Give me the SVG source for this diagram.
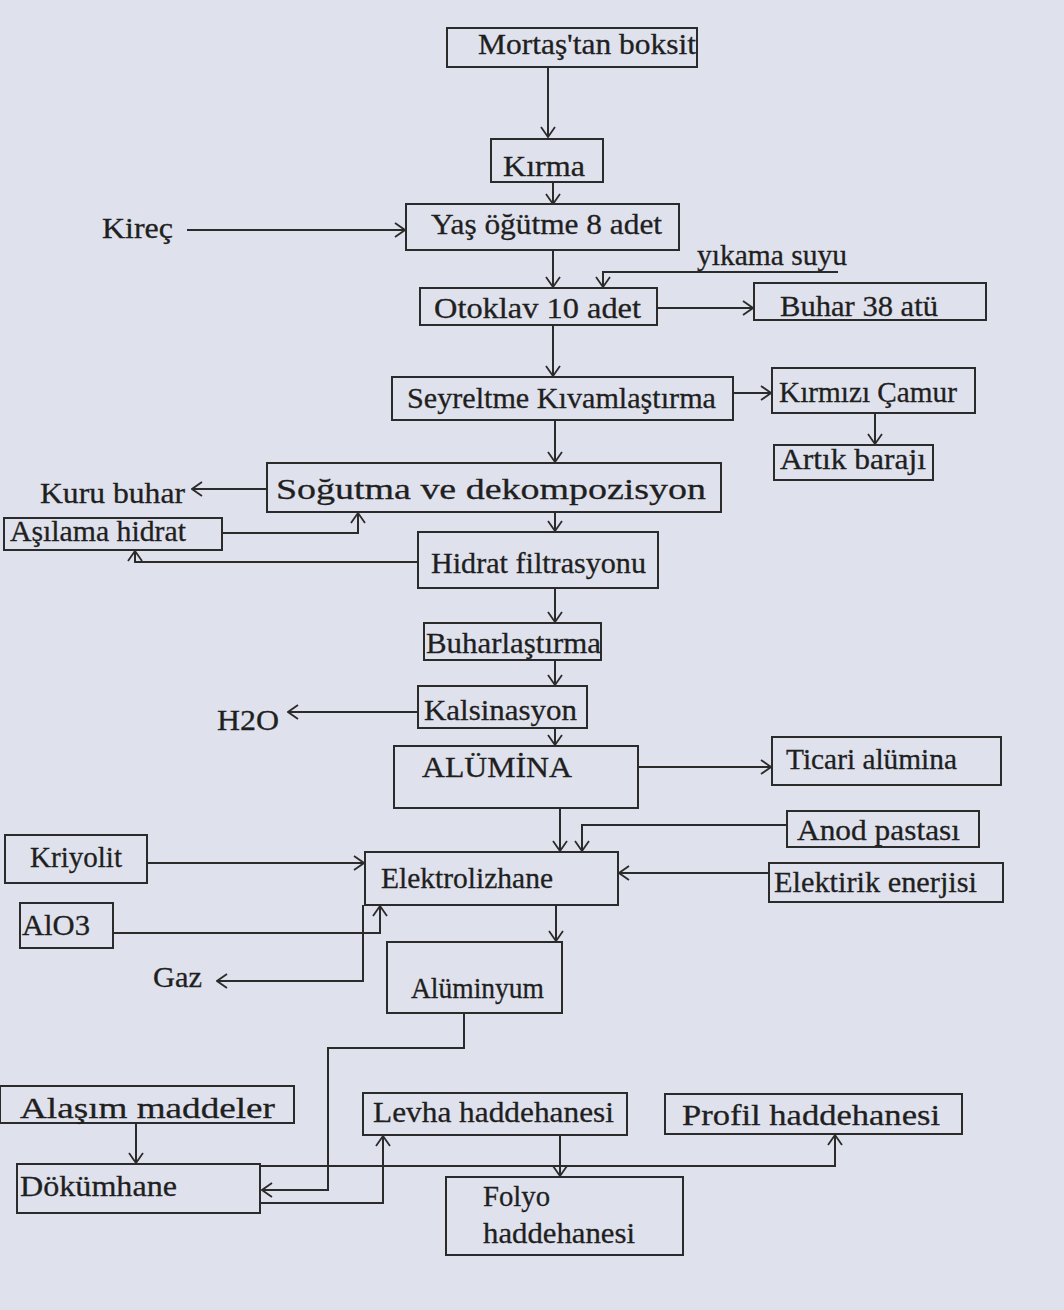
<svg xmlns="http://www.w3.org/2000/svg" width="1064" height="1310" viewBox="0 0 1064 1310">
<style>
.bg{fill:#dfe2ec}
.box{fill:none;stroke:#2b2b2b;stroke-width:2}
.t{font-family:"Liberation Serif","DejaVu Serif",serif;font-size:29px;fill:#1f1f1f;stroke:#1f1f1f;stroke-width:0.3}
.c{fill:none;stroke:#2b2b2b;stroke-width:2}
</style>
<defs>
<marker id="a" viewBox="0 0 12 16" refX="11" refY="8" markerWidth="12" markerHeight="16" markerUnits="userSpaceOnUse" orient="auto">
<path d="M1,1 L11,8 L1,15" fill="none" stroke="#2b2b2b" stroke-width="1.8"/>
</marker>
</defs>
<rect class="bg" x="0" y="0" width="1064" height="1310"/>
<g id="connectors">
<path class="c" d="M548,67 V137" marker-end="url(#a)"/>
<path class="c" d="M553,182 V204" marker-end="url(#a)"/>
<path class="c" d="M187,230 H405" marker-end="url(#a)"/>
<path class="c" d="M553,250 V287" marker-end="url(#a)"/>
<path class="c" d="M838,272 H603 V287" marker-end="url(#a)"/>
<path class="c" d="M657,308 H753" marker-end="url(#a)"/>
<path class="c" d="M553,325 V376" marker-end="url(#a)"/>
<path class="c" d="M733,393 H771" marker-end="url(#a)"/>
<path class="c" d="M875,413 V444" marker-end="url(#a)"/>
<path class="c" d="M555,420 V462" marker-end="url(#a)"/>
<path class="c" d="M267,489 H192" marker-end="url(#a)"/>
<path class="c" d="M222,533 H358 V513" marker-end="url(#a)"/>
<path class="c" d="M555,512 V531" marker-end="url(#a)"/>
<path class="c" d="M418,562 H135 V551" marker-end="url(#a)"/>
<path class="c" d="M555,588 V622" marker-end="url(#a)"/>
<path class="c" d="M555,660 V685" marker-end="url(#a)"/>
<path class="c" d="M418,712 H288" marker-end="url(#a)"/>
<path class="c" d="M555,728 V745" marker-end="url(#a)"/>
<path class="c" d="M638,767 H771" marker-end="url(#a)"/>
<path class="c" d="M560,808 V851" marker-end="url(#a)"/>
<path class="c" d="M787,825 H582 V851" marker-end="url(#a)"/>
<path class="c" d="M147,863 H364" marker-end="url(#a)"/>
<path class="c" d="M769,873 H619" marker-end="url(#a)"/>
<path class="c" d="M113,933 H380 V906" marker-end="url(#a)"/>
<path class="c" d="M363,905 V981 H217" marker-end="url(#a)"/>
<path class="c" d="M556,905 V941" marker-end="url(#a)"/>
<path class="c" d="M464,1013 V1048 H328 V1190 H262" marker-end="url(#a)"/>
<path class="c" d="M136,1123 V1163" marker-end="url(#a)"/>
<path class="c" d="M260,1166 H835 V1135" marker-end="url(#a)"/>
<path class="c" d="M260,1203 H383 V1136" marker-end="url(#a)"/>
<path class="c" d="M560,1135 V1176" marker-end="url(#a)"/>
</g>
<g id="mortas"><rect class="box" x="447" y="28" width="250" height="39"/><text class="t" x="478" y="54" textLength="218" lengthAdjust="spacingAndGlyphs">Mortaş'tan boksit</text></g>
<g id="kirma"><rect class="box" x="491" y="139" width="112" height="43"/><text class="t" x="503" y="176" textLength="82" lengthAdjust="spacingAndGlyphs">Kırma</text></g>
<g id="yas"><rect class="box" x="406" y="204" width="273" height="46"/><text class="t" x="431" y="234" textLength="231" lengthAdjust="spacingAndGlyphs">Yaş öğütme 8 adet</text></g>
<g id="kirec"><text class="t" x="102" y="238" textLength="71" lengthAdjust="spacingAndGlyphs">Kireç</text></g>
<g id="yikama"><text class="t" x="697" y="265" textLength="150" lengthAdjust="spacingAndGlyphs">yıkama suyu</text></g>
<g id="otoklav"><rect class="box" x="420" y="288" width="237" height="37"/><text class="t" x="434" y="318" textLength="207" lengthAdjust="spacingAndGlyphs">Otoklav 10 adet</text></g>
<g id="buhar38"><rect class="box" x="754" y="283" width="232" height="37"/><text class="t" x="780" y="316" textLength="158" lengthAdjust="spacingAndGlyphs">Buhar 38 atü</text></g>
<g id="seyreltme"><rect class="box" x="392" y="377" width="341" height="43"/><text class="t" x="407" y="408" textLength="309" lengthAdjust="spacingAndGlyphs">Seyreltme Kıvamlaştırma</text></g>
<g id="kirmizi"><rect class="box" x="772" y="368" width="203" height="45"/><text class="t" x="779" y="402" textLength="178" lengthAdjust="spacingAndGlyphs">Kırmızı Çamur</text></g>
<g id="artik"><rect class="box" x="774" y="445" width="159" height="35"/><text class="t" x="780" y="469" textLength="146" lengthAdjust="spacingAndGlyphs">Artık barajı</text></g>
<g id="sogutma"><rect class="box" x="267" y="463" width="454" height="49"/><text class="t" x="276" y="499" textLength="430" lengthAdjust="spacingAndGlyphs">Soğutma ve dekompozisyon</text></g>
<g id="kurubuhar"><text class="t" x="40" y="503" textLength="145" lengthAdjust="spacingAndGlyphs">Kuru buhar</text></g>
<g id="asilama"><rect class="box" x="4" y="518" width="218" height="32"/><text class="t" x="10" y="541" textLength="176" lengthAdjust="spacingAndGlyphs">Aşılama hidrat</text></g>
<g id="hidrat"><rect class="box" x="418" y="532" width="240" height="56"/><text class="t" x="431" y="573" textLength="215" lengthAdjust="spacingAndGlyphs">Hidrat filtrasyonu</text></g>
<g id="buharlastirma"><rect class="box" x="424" y="623" width="177" height="37"/><text class="t" x="426" y="653" textLength="175" lengthAdjust="spacingAndGlyphs">Buharlaştırma</text></g>
<g id="kalsinasyon"><rect class="box" x="418" y="686" width="169" height="42"/><text class="t" x="424" y="720" textLength="153" lengthAdjust="spacingAndGlyphs">Kalsinasyon</text></g>
<g id="h2o"><text class="t" x="217" y="730" textLength="62" lengthAdjust="spacingAndGlyphs">H2O</text></g>
<g id="alumina"><rect class="box" x="394" y="746" width="244" height="62"/><text class="t" x="422" y="777" textLength="150" lengthAdjust="spacingAndGlyphs">ALÜMİNA</text></g>
<g id="ticari"><rect class="box" x="772" y="737" width="229" height="48"/><text class="t" x="786" y="769" textLength="171" lengthAdjust="spacingAndGlyphs">Ticari alümina</text></g>
<g id="anod"><rect class="box" x="787" y="811" width="192" height="36"/><text class="t" x="797" y="840" textLength="163" lengthAdjust="spacingAndGlyphs">Anod pastası</text></g>
<g id="kriyolit"><rect class="box" x="5" y="835" width="142" height="48"/><text class="t" x="30" y="867" textLength="92" lengthAdjust="spacingAndGlyphs">Kriyolit</text></g>
<g id="elektrolizhane"><rect class="box" x="365" y="852" width="253" height="53"/><text class="t" x="381" y="888" textLength="172" lengthAdjust="spacingAndGlyphs">Elektrolizhane</text></g>
<g id="elektrik"><rect class="box" x="769" y="863" width="234" height="39"/><text class="t" x="774" y="892" textLength="203" lengthAdjust="spacingAndGlyphs">Elektirik enerjisi</text></g>
<g id="alo3"><rect class="box" x="20" y="903" width="93" height="45"/><text class="t" x="22" y="935" textLength="68" lengthAdjust="spacingAndGlyphs">AlO3</text></g>
<g id="gaz"><text class="t" x="153" y="987" textLength="49" lengthAdjust="spacingAndGlyphs">Gaz</text></g>
<g id="aluminyum"><rect class="box" x="387" y="942" width="175" height="71"/><text class="t" x="411" y="998" textLength="133" lengthAdjust="spacingAndGlyphs">Alüminyum</text></g>
<g id="alasim"><rect class="box" x="0" y="1086" width="294" height="37"/><text class="t" x="20" y="1118" textLength="255" lengthAdjust="spacingAndGlyphs">Alaşım maddeler</text></g>
<g id="dokumhane"><rect class="box" x="17" y="1164" width="243" height="49"/><text class="t" x="20" y="1196" textLength="157" lengthAdjust="spacingAndGlyphs">Dökümhane</text></g>
<g id="levha"><rect class="box" x="363" y="1093" width="264" height="42"/><text class="t" x="373" y="1122" textLength="241" lengthAdjust="spacingAndGlyphs">Levha haddehanesi</text></g>
<g id="profil"><rect class="box" x="665" y="1094" width="297" height="40"/><text class="t" x="682" y="1125" textLength="258" lengthAdjust="spacingAndGlyphs">Profil haddehanesi</text></g>
<g id="folyo"><rect class="box" x="446" y="1177" width="237" height="78"/><text class="t" x="483" y="1206" textLength="67" lengthAdjust="spacingAndGlyphs">Folyo</text><text class="t" x="483" y="1243" textLength="152" lengthAdjust="spacingAndGlyphs">haddehanesi</text></g>
</svg>
